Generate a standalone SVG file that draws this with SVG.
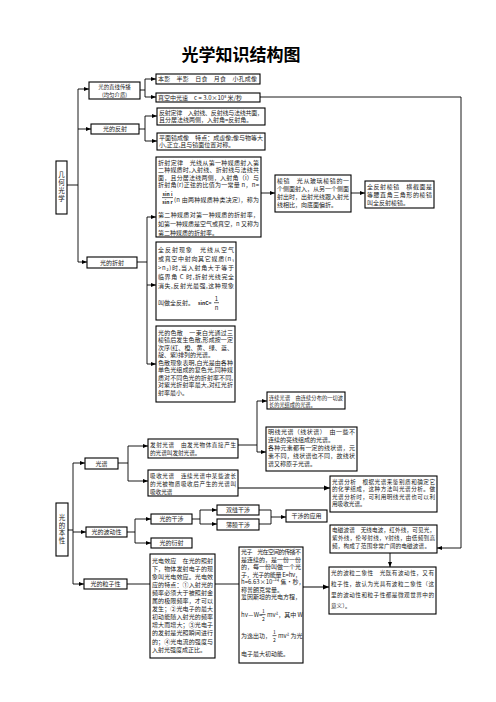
<svg xmlns="http://www.w3.org/2000/svg" width="496" height="702" viewBox="0 0 496 702">
<defs>
<style>
.b{fill:#fff;stroke:#000;stroke-width:1.1}
.t{font-family:"Noto Sans CJK SC","Noto Sans",sans-serif;font-size:6px;fill:#1a1a1a}
.s{font-size:5.6px}
.c{text-anchor:middle}
.v{writing-mode:vertical-rl;font-size:6.5px;letter-spacing:1.3px}
.l{fill:none;stroke:#000;stroke-width:0.9}
.g{fill:none;stroke:#808080;stroke-width:2}
.a{marker-end:url(#ar)}
.ga{marker-end:url(#gr)}
</style>
<marker id="ar" viewBox="0 0 6 6" refX="6" refY="3" markerWidth="5" markerHeight="5" markerUnits="userSpaceOnUse" orient="auto"><path d="M0,0.6 L6,3 L0,5.4 z" fill="#000"/></marker>
<marker id="gr" viewBox="0 0 6 6" refX="6" refY="3" markerWidth="6" markerHeight="6" markerUnits="userSpaceOnUse" orient="auto"><path d="M0,0.6 L6,3 L0,5.4 z" fill="#000"/></marker>
</defs>
<rect width="496" height="702" fill="#fff"/>
<text x="241" y="61" class="c" style="font-family:'Noto Sans CJK SC',sans-serif;font-size:17px;font-weight:bold;fill:#000">光学知识结构图</text>

<g id="connectors">
<path class="l" d="M67,185 H78 M78,89 V262"/>
<path class="l a" d="M78,89 H89"/>
<path class="l a" d="M78,129 H91"/>
<path class="l a" d="M78,262 H87"/>
<path class="l" d="M140,90 H145 M145,79 V97"/>
<path class="l a" d="M145,79 H156"/>
<path class="l a" d="M145,97 H156"/>
<path class="l" d="M139,129 H145 M145,116 V141"/>
<path class="l a" d="M145,116 H157"/>
<path class="l a" d="M145,141 H157"/>
<path class="l" d="M137,262 H147 M147,217 V364"/>
<path class="l a" d="M147,217 H156"/>
<path class="l a" d="M147,285 H156"/>
<path class="l a" d="M147,364 H156"/>
<path class="l a" d="M261,193 H275"/>
<path class="l a" d="M351,193 H365"/>
<path class="l a" d="M260,97 H461 V548 H437"/>
<path class="l" d="M68,530 H73 M73,463 V584"/>
<path class="l a" d="M73,463 H85"/>
<path class="l a" d="M73,532 H86"/>
<path class="l a" d="M73,584 H84"/>
<path class="l" d="M118,463 H128 M128,446 V481"/>
<path class="l a" d="M128,446 H148"/>
<path class="l a" d="M128,481 H148"/>
<path class="l" d="M238,445 H257 M257,401 V452"/>
<path class="l a" d="M257,401 H267"/>
<path class="l a" d="M257,452 H266"/>
<path class="g ga" d="M238,488 H330"/>
<path class="l" d="M127,532 H135 M135,519 V543"/>
<path class="l a" d="M135,519 H151"/>
<path class="l a" d="M135,543 H151"/>
<path class="l" d="M192,519 H200 M200,510 V524"/>
<path class="l a" d="M200,510 H217"/>
<path class="l a" d="M200,524 H217"/>
<path class="l" d="M259,510 H271 M259,524 H271 M271,510 V524"/>
<path class="l a" d="M271,517 H286"/>
<path class="l" d="M127,584 H150 M215,584 H239"/>
<path class="g ga" d="M303,587 H329"/>
<path class="l a" d="M390,553 V567"/>
</g>

<g id="n-jihe">
<rect class="b" x="56" y="161" width="11" height="53"/>
<text class="t v" x="61.5" y="171.5">几何光学</text>
</g>
<g id="n-zhixian">
<rect class="b" x="89" y="82" width="51" height="17"/>
<text class="t c" x="114.5" y="88.8" style="font-size:5.4px">光的直线传播</text>
<text class="t c" x="114.5" y="96.6" style="font-size:5.4px">(均匀介质)</text>
</g>
<g id="n-fanshe">
<rect class="b" x="91" y="124" width="48" height="10"/>
<text class="t c" x="115" y="131.3">光的反射</text>
</g>
<g id="n-zheshe">
<rect class="b" x="87" y="257" width="50" height="11"/>
<text class="t c" x="112" y="264.7">光的折射</text>
</g>
<g id="n-benying">
<rect class="b" x="156" y="74" width="104" height="10"/>
<text class="t" x="158" y="81.3" textLength="99">本影　半影　日食　月食　小孔成像</text>
</g>
<g id="n-guangsu">
<rect class="b" x="156" y="93" width="104" height="9"/>
<text class="t" x="158" y="99.8" textLength="84">真空中光速　c = 3.0×10⁸ 米/秒</text>
</g>
<g id="n-fanshedinglv">
<rect class="b" x="157" y="108" width="108" height="17"/>
<text class="t" x="159" y="114.8" textLength="104">反射定律　入射线、反射线与法线共面，</text>
<text class="t" x="159" y="122.3">且分居法线两侧，入射角=反射角。</text>
</g>
<g id="n-pingmianjing">
<rect class="b" x="157" y="133" width="108" height="17"/>
<text class="t" x="159" y="139.8" textLength="104">平面镜成像　特点：成虚像;像与物等大</text>
<text class="t" x="159" y="147.3">小,正立,且与镜面位置对称。</text>
</g>
<g id="n-zheshedinglv">
<rect class="b" x="156" y="157" width="105" height="80"/>
<text class="t" x="158" y="164.5" textLength="101">折射定律　光线从第一种媒质射入第</text>
<text class="t" x="158" y="172" textLength="101">二种媒质时,入射线、折射线与法线共</text>
<text class="t" x="158" y="179.5" textLength="101">面，且分居法线两侧，入射角（i）与</text>
<text class="t" x="158" y="187" textLength="101">折射角(r)正弦的比值为一常量 n，n=</text>
<text class="t c" x="167.5" y="195.5" style="font-size:5px;font-weight:bold">sin i</text>
<path d="M162,197.6 H173" stroke="#000" stroke-width="0.6"/>
<text class="t c" x="167.5" y="204" style="font-size:5px;font-weight:bold">sin r</text>
<text class="t" x="174" y="201.5" textLength="85">(n 由两种媒质种类决定)，称为</text>
<text class="t" x="158" y="216.5" textLength="101">第二种媒质对第一种媒质的折射率，</text>
<text class="t" x="158" y="225.5" textLength="101">如第一种媒质是空气或真空，n 又称为</text>
<text class="t" x="158" y="234.5">第二种媒质的折射率。</text>
</g>
<g id="n-lengjing">
<rect class="b" x="275" y="175" width="76" height="37"/>
<text class="t" x="277" y="182.5" textLength="72">棱镜　光从玻璃棱镜的一</text>
<text class="t" x="277" y="190.5" textLength="72">个侧面射入，从另一个侧面</text>
<text class="t" x="277" y="198.5" textLength="72">射出时，出射光线跟入射光</text>
<text class="t" x="277" y="206.5">线相比，向底面偏折。</text>
</g>
<g id="n-quanfanshelengjing">
<rect class="b" x="365" y="181" width="69" height="27"/>
<text class="t" x="367" y="188.5" textLength="65">全反射棱镜　横截面是</text>
<text class="t" x="367" y="196.5" textLength="65">等腰直角三角形的棱镜</text>
<text class="t" x="367" y="204.5">叫全反射棱镜。</text>
</g>
<g id="n-quanfanshe">
<rect class="b" x="156" y="242" width="80" height="78"/>
<text class="t" x="158" y="252" textLength="76">全反射现象　光线从空气</text>
<text class="t" x="158" y="261" textLength="76">或真空中射向其它媒质(n₁</text>
<text class="t" x="158" y="270" textLength="76">&gt;n₂)时,当入射角大于等于</text>
<text class="t" x="158" y="279" textLength="76">临界角 C 时,折射光线完全</text>
<text class="t" x="158" y="288" textLength="76">消失,反射光最强,这种现象</text>
<text class="t" x="158" y="305">叫做全反射。</text>
<text class="t" x="198" y="305" style="font-size:5px;font-weight:bold">sinC=</text>
<text class="t c" x="216.5" y="301" style="font-size:6px">1</text>
<path d="M214,302.7 H219" stroke="#000" stroke-width="0.6"/>
<text class="t c" x="216.5" y="310" style="font-size:6px">n</text>
</g>
<g id="n-sesan">
<rect class="b" x="156" y="326" width="79" height="76"/>
<text class="t" x="158" y="334.5" textLength="75">光的色散　一束白光通过三</text>
<text class="t" x="158" y="342" textLength="75">棱镜后发生色散,形成按一定</text>
<text class="t" x="158" y="349.5" textLength="75">次序(红、橙、黄、绿、蓝、</text>
<text class="t" x="158" y="357">靛、紫)排列的光谱。</text>
<text class="t" x="158" y="364.5" textLength="75">色散现象表明,白光是由各种</text>
<text class="t" x="158" y="372" textLength="75">单色光组成的复色光,同种媒</text>
<text class="t" x="158" y="379.5" textLength="75">质对不同色光的折射率不同,</text>
<text class="t" x="158" y="387" textLength="75">对紫光折射率最大,对红光折</text>
<text class="t" x="158" y="394.5">射率最小。</text>
</g>

<g id="n-benxing">
<rect class="b" x="56" y="503" width="12" height="53"/>
<text class="t v" x="62" y="514">光的本性</text>
</g>
<g id="n-guangpu">
<rect class="b" x="85" y="458" width="33" height="11"/>
<text class="t c" x="101.5" y="465.7">光谱</text>
</g>
<g id="n-bodong">
<rect class="b" x="86" y="527" width="41" height="10"/>
<text class="t c" x="106.5" y="534.3">光的波动性</text>
</g>
<g id="n-lizi">
<rect class="b" x="84" y="579" width="43" height="10"/>
<text class="t c" x="105.5" y="586.3">光的粒子性</text>
</g>
<g id="n-fashe">
<rect class="b" x="148" y="439" width="90" height="19"/>
<text class="t s" x="150" y="446.5" textLength="86">发射光谱　由发光物体直接产生</text>
<text class="t s" x="150" y="454.5">的光谱叫发射光谱。</text>
</g>
<g id="n-xishou">
<rect class="b" x="148" y="470" width="90" height="26"/>
<text class="t s" x="150" y="477.5" textLength="86">吸收光谱　连续光谱中某些波长</text>
<text class="t s" x="150" y="485.5" textLength="86">的光被物质吸收后产生的光谱叫</text>
<text class="t s" x="150" y="493.5">吸收光谱</text>
</g>
<g id="n-lianxu">
<rect class="b" x="267" y="392" width="78" height="17"/>
<text class="t" x="269" y="399.5" style="font-size:5.2px" textLength="74">连续光谱　由连续分布的一切波</text>
<text class="t" x="269" y="406.8" style="font-size:5.2px">长的光组成的光谱。</text>
</g>
<g id="n-mingxian">
<rect class="b" x="266" y="427" width="91" height="44"/>
<text class="t" x="268" y="434" textLength="87">明线光谱（线状谱）　由一些不</text>
<text class="t" x="268" y="441.5">连续的亮线组成的光谱。</text>
<text class="t" x="268" y="449.5" textLength="87">各种元素都有一定的线状谱，元</text>
<text class="t" x="268" y="457.5" textLength="87">素不同，线状谱也不同，故线状</text>
<text class="t" x="268" y="465.5">谱又称原子光谱。</text>
</g>
<g id="n-fenxi">
<rect class="b" x="330" y="476" width="107" height="36"/>
<text class="t s" x="332" y="483.5" textLength="103">光谱分析　根据光谱来鉴别质和确定它</text>
<text class="t s" x="332" y="491" textLength="103">的化学组成，这种方法叫光谱分析。做</text>
<text class="t s" x="332" y="498.5" textLength="103">光谱分析时，可利用明线光谱也可以利</text>
<text class="t s" x="332" y="506">用吸收光谱。</text>
</g>
<g id="n-ganshe">
<rect class="b" x="151" y="514" width="41" height="10"/>
<text class="t c" x="171.5" y="521.3">光的干涉</text>
</g>
<g id="n-yanshe">
<rect class="b" x="151" y="538" width="41" height="10"/>
<text class="t c" x="171.5" y="545.3">光的衍射</text>
</g>
<g id="n-shuangfeng">
<rect class="b" x="217" y="505" width="42" height="10"/>
<text class="t c" x="238" y="512.3">双缝干涉</text>
</g>
<g id="n-bomo">
<rect class="b" x="217" y="519" width="42" height="11"/>
<text class="t c" x="238" y="526.8">薄膜干涉</text>
</g>
<g id="n-yingyong">
<rect class="b" x="286" y="510" width="41" height="12"/>
<text class="t c" x="306.5" y="518.3">干涉的应用</text>
</g>
<g id="n-dianci">
<rect class="b" x="330" y="525" width="107" height="28"/>
<text class="t s" x="332" y="532" textLength="103">电磁波谱　无线电波，红外线，可见光，</text>
<text class="t s" x="332" y="540" textLength="103">紫外线，伦琴射线，γ射线，由低频到高</text>
<text class="t s" x="332" y="548" textLength="98">频，构成了范围非常广阔的电磁波谱。</text>
</g>
<g id="n-boli">
<rect class="b" x="329" y="567" width="107" height="47"/>
<text class="t s" x="331" y="574.5" textLength="103">光的波粒二象性　光既有波动性，又有</text>
<text class="t s" x="331" y="585.5" textLength="103">粒子性，故认为光具有波粒二象性（这</text>
<text class="t s" x="331" y="596.5" textLength="103">里的波动性和粒子性都是微观世界中的</text>
<text class="t s" x="331" y="607.5">意义）。</text>
</g>
<g id="n-guangdian">
<rect class="b" x="150" y="554" width="65" height="104"/>
<text class="t" x="152" y="562.5" textLength="61">光电效应　在光的照射</text>
<text class="t" x="152" y="570.6" textLength="61">下，物体发射电子的现</text>
<text class="t" x="152" y="578.7" textLength="61">象叫光电效应。光电效</text>
<text class="t" x="152" y="586.8" textLength="61">应的特点：①入射光的</text>
<text class="t" x="152" y="594.9" textLength="61">频率必须大于被照射金</text>
<text class="t" x="152" y="603" textLength="61">属的极限频率，才可以</text>
<text class="t" x="152" y="611.1" textLength="61">发生；②光电子的最大</text>
<text class="t" x="152" y="619.2" textLength="61">初动能随入射光的频率</text>
<text class="t" x="152" y="627.3" textLength="61">增大而增大；③光电子</text>
<text class="t" x="152" y="635.4" textLength="61">的发射是光照瞬间进行</text>
<text class="t" x="152" y="643.5" textLength="61">的；④光电流的强度与</text>
<text class="t" x="152" y="651.6">入射光强度成正比。</text>
</g>
<g id="n-guangzi">
<rect class="b" x="239" y="547" width="64" height="116"/>
<text class="t" x="241" y="554" textLength="60">光子　光在空间的传播不</text>
<text class="t" x="241" y="561.5" textLength="60">是连续的，是一份一份</text>
<text class="t" x="241" y="569" textLength="60">的，每一份叫做一个光</text>
<text class="t" x="241" y="576.5" textLength="60">子，光子的能量 E=hν，</text>
<text class="t" x="241" y="584">h=6.63×10⁻³⁴ 焦·秒，</text>
<text class="t" x="241" y="591.5">称普朗克常量。</text>
<text class="t" x="241" y="599">爱因斯坦的光电方程，</text>
<text class="t" x="241" y="617">hν－W=</text>
<text class="t c" x="263.5" y="613" style="font-size:5px">1</text>
<path d="M261.5,614.6 H265.5" stroke="#000" stroke-width="0.6"/>
<text class="t c" x="263.5" y="620.5" style="font-size:5px">2</text>
<text class="t" x="267" y="617">mv²，其中 W</text>
<text class="t" x="241" y="638">为逸出功，</text>
<text class="t c" x="274.5" y="634" style="font-size:5px">1</text>
<path d="M272.5,635.6 H276.5" stroke="#000" stroke-width="0.6"/>
<text class="t c" x="274.5" y="641.5" style="font-size:5px">2</text>
<text class="t" x="278" y="638">mv² 为光</text>
<text class="t" x="241" y="656">电子最大初动能。</text>
</g>
</svg>
